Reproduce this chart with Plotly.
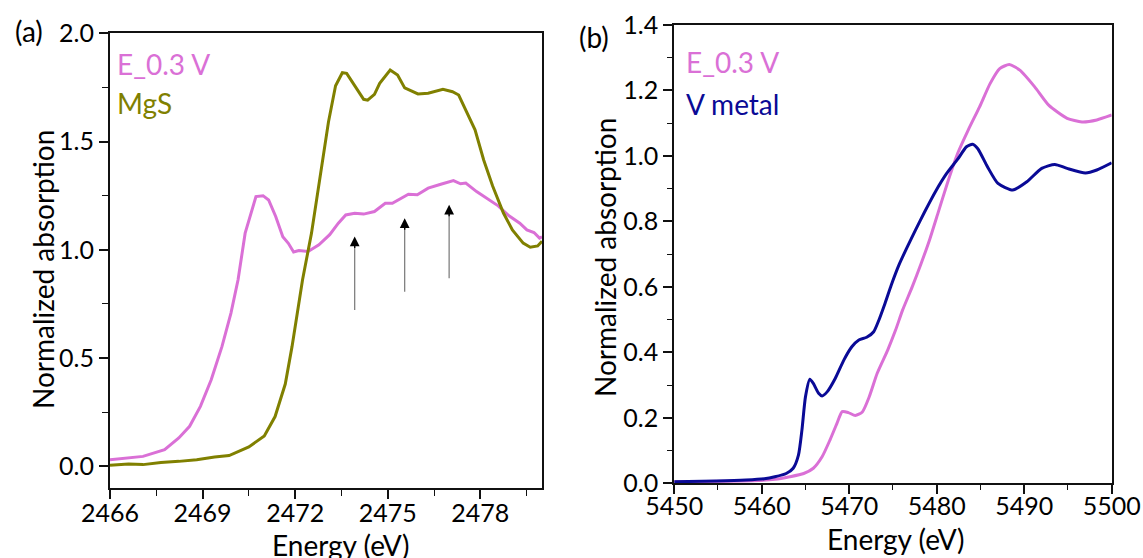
import plotly.graph_objects as go

# ---- (a) S K-edge ----
energy_s_e03 = [2466.0, 2467.07, 2467.77, 2468.23, 2468.58, 2468.93, 2469.28, 2469.63, 2469.92,
                2470.15, 2470.38, 2470.56, 2470.73, 2470.96, 2471.14, 2471.37, 2471.6, 2471.78,
                2471.95, 2472.12, 2472.42, 2472.77, 2473.12, 2473.4, 2473.64, 2473.93, 2474.22,
                2474.57, 2474.92, 2475.15, 2475.44, 2475.67, 2475.96, 2476.31, 2476.72, 2477.13,
                2477.36, 2477.53, 2477.88, 2478.23, 2478.58, 2478.93, 2479.28, 2479.51, 2479.74,
                2479.92, 2480.0]
mu_s_e03 = [0.031, 0.046, 0.077, 0.131, 0.185, 0.277, 0.40, 0.554, 0.708,
            0.862, 1.077, 1.17, 1.246, 1.25, 1.23, 1.154, 1.06, 1.03,
            0.99, 0.997, 0.992, 1.023, 1.07, 1.123, 1.161, 1.169, 1.165,
            1.177, 1.215, 1.215, 1.238, 1.257, 1.254, 1.285, 1.303, 1.32,
            1.305, 1.308, 1.269, 1.238, 1.203, 1.157, 1.123, 1.092, 1.08,
            1.054, 1.06]

energy_s_mgs = [2466.0, 2466.6, 2467.07, 2467.65, 2468.23, 2468.81, 2469.39, 2469.86, 2470.5,
                2471.0, 2471.35, 2471.68, 2471.9, 2472.07, 2472.24, 2472.53, 2472.8, 2473.08,
                2473.31, 2473.53, 2473.67, 2473.93, 2474.22, 2474.35, 2474.57, 2474.74, 2475.08,
                2475.32, 2475.55, 2475.98, 2476.31, 2476.79, 2477.1, 2477.3, 2477.5, 2477.83,
                2478.11, 2478.4, 2478.75, 2479.04, 2479.39, 2479.62, 2479.86, 2480.0]
mu_s_mgs = [0.005, 0.011, 0.008, 0.018, 0.023, 0.031, 0.043, 0.05, 0.09,
            0.14, 0.23, 0.38, 0.554, 0.708, 0.862, 1.077, 1.325, 1.59,
            1.758, 1.818, 1.815, 1.757, 1.695, 1.691, 1.718, 1.769, 1.83,
            1.807, 1.748, 1.72, 1.723, 1.741, 1.73, 1.715, 1.656, 1.554,
            1.415, 1.295, 1.17, 1.092, 1.031, 1.012, 1.018, 1.04]

# arrows marking the post-edge features: (energy, tip, tail)
arrow_energy = [2473.93, 2475.55, 2476.99]
arrow_tip = [1.061, 1.146, 1.208]
arrow_tail = [0.715, 0.80, 0.862]

# ---- (b) V K-edge ----
energy_v_e03 = [5450, 5459, 5461.5, 5463.2, 5464.8, 5465.9, 5466.9, 5467.8, 5468.6, 5469.2,
                5469.9, 5470.7, 5471.5, 5472.3, 5473.2, 5474.4, 5475.3, 5476.1, 5477.2, 5478.2,
                5479.2, 5480.2, 5481.2, 5482.4, 5483.6, 5484.9, 5486.1, 5487.2, 5488.3, 5489.5,
                5491.2, 5492.8, 5494.9, 5496.6, 5498.3, 5500]
mu_v_e03 = [0.005, 0.008, 0.012, 0.02, 0.03, 0.046, 0.081, 0.132, 0.183, 0.219,
            0.216, 0.207, 0.218, 0.265, 0.336, 0.407, 0.468, 0.529, 0.6, 0.67,
            0.745, 0.83, 0.915, 1.008, 1.079, 1.15, 1.221, 1.267, 1.279, 1.262,
            1.211, 1.155, 1.115, 1.104, 1.11, 1.125]

energy_v_metal = [5450, 5454.8, 5458.2, 5460.3, 5461.5, 5462.8, 5463.6, 5464.2, 5464.6, 5465.0,
                  5465.5, 5465.9, 5466.5, 5466.9, 5467.5, 5468.4, 5469.4, 5470.3, 5471.1, 5472.0,
                  5472.8, 5473.4, 5474.1, 5474.8, 5475.7, 5476.6, 5477.6, 5478.6, 5479.9, 5481.1,
                  5482.4, 5483.4, 5484.1, 5484.7, 5485.8, 5487.0, 5488.7, 5490.3, 5492.0, 5493.5,
                  5494.9, 5497.0, 5498.3, 5500]
mu_v_metal = [0.005, 0.007, 0.01, 0.014, 0.02, 0.03, 0.046, 0.086, 0.163, 0.264,
              0.318, 0.305, 0.275, 0.267, 0.28, 0.32, 0.377, 0.417, 0.438, 0.446,
              0.463, 0.499, 0.55, 0.605, 0.668, 0.72, 0.775, 0.828, 0.893, 0.945,
              0.99, 1.028, 1.036, 1.022, 0.967, 0.916, 0.896, 0.921, 0.962, 0.974,
              0.962, 0.948, 0.957, 0.979]

PINK = "#DA70D6"
OLIVE = "#808000"
NAVY = "#0A0A96"
FONT = "Lato"
W, H = 1143, 558

fig = go.Figure()
fig.add_trace(go.Scatter(x=energy_s_e03, y=mu_s_e03, mode="lines",
                         line=dict(color=PINK, width=3), xaxis="x", yaxis="y"))
fig.add_trace(go.Scatter(x=energy_s_mgs, y=mu_s_mgs, mode="lines",
                         line=dict(color=OLIVE, width=3), xaxis="x", yaxis="y"))
fig.add_trace(go.Scatter(x=energy_v_e03, y=mu_v_e03, mode="lines",
                         line=dict(color=PINK, width=3, shape="spline", smoothing=0.6),
                         xaxis="x2", yaxis="y2"))
fig.add_trace(go.Scatter(x=energy_v_metal, y=mu_v_metal, mode="lines",
                         line=dict(color=NAVY, width=3, shape="spline", smoothing=0.6),
                         xaxis="x2", yaxis="y2"))


def px_x(p):
    return p / W


def px_y(p):
    return 1 - p / H


tickfont = dict(family=FONT, size=25, color="black")
axis_common = dict(showgrid=False, zeroline=False, showline=True, linecolor="#111",
                   linewidth=2, mirror=True, ticks="outside", ticklen=9, tickwidth=1.5,
                   tickcolor="#111", tickfont=tickfont, automargin=False)

fig.update_layout(
    width=W, height=H,
    margin=dict(l=0, r=0, t=0, b=0, pad=0),
    paper_bgcolor="white", plot_bgcolor="white",
    showlegend=False,
    xaxis=dict(domain=[px_x(110), px_x(542)], range=[2466, 2480], anchor="y",
               tickvals=[2466, 2469, 2472, 2475, 2478], ticklabelstandoff=-7,
               minor=dict(tick0=2466, dtick=1.5, ticks="outside", ticklen=6,
                          tickwidth=1.2, tickcolor="#111"),
               **axis_common),
    yaxis=dict(domain=[px_y(488), px_y(33.3)], range=[-0.1, 2.0], anchor="x",
               tickvals=[0.0, 0.5, 1.0, 1.5, 2.0], tickformat=".1f",
               minor=dict(tick0=0, dtick=0.25, ticks="outside", ticklen=6,
                          tickwidth=1.2, tickcolor="#111"),
               **axis_common),
    xaxis2=dict(domain=[px_x(674.2), px_x(1111.7)], range=[5450, 5500], anchor="y2",
                dtick=10, tick0=5450, ticklabelstandoff=-9,
                minor=dict(tick0=5450, dtick=5, ticks="outside", ticklen=5,
                           tickwidth=1.2, tickcolor="#111"),
                **axis_common),
    yaxis2=dict(domain=[px_y(483.3), px_y(25)], range=[0, 1.4], anchor="x2",
                dtick=0.2, tick0=0, tickformat=".1f",
                minor=dict(tick0=0, dtick=0.1, ticks="outside", ticklen=5,
                           tickwidth=1.2, tickcolor="#111"),
                **axis_common),
)

annotations = []


def text(s, x, y, size, color="black", xanchor="center", angle=0):
    annotations.append(dict(text=s, x=px_x(x), y=px_y(y), xref="paper", yref="paper",
                            showarrow=False, xanchor=xanchor, yanchor="middle",
                            textangle=angle,
                            font=dict(family=FONT, size=size, color=color)))


# panel labels
text("(a)", 28.6, 31.5, 28)
text("(b)", 594, 37.5, 28)
# series labels
text("E_0.3 V", 115, 63.5, 28, PINK, "left")
text("MgS", 115, 103.3, 28, OLIVE, "left")
text("E_0.3 V", 684, 62, 28, PINK, "left")
text("V metal", 684, 103.7, 28, NAVY, "left")
# axis titles
text("Energy (eV)", 340, 545, 28)
text("Energy (eV)", 895, 539, 28)
text("Normalized absorption", 43, 270, 28, angle=-90)
text("Normalized absorption", 605, 258, 28, angle=-90)

# arrows in panel (a): thin grey shaft with a black head
for xe, tip, tail in zip(arrow_energy, arrow_tip, arrow_tail):
    annotations.append(dict(x=xe, y=tip - 0.03, ax=xe, ay=tail, xref="x", yref="y",
                            axref="x", ayref="y", text="", showarrow=True,
                            arrowhead=0, arrowwidth=1.2, arrowcolor="#777"))
    annotations.append(dict(x=xe, y=tip, ax=xe, ay=tip - 0.06, xref="x", yref="y",
                            axref="x", ayref="y", text="", showarrow=True,
                            arrowhead=2, arrowsize=1.5, arrowwidth=1.3,
                            arrowcolor="black"))

fig.update_layout(annotations=annotations)
fig.write_html("out.html")
